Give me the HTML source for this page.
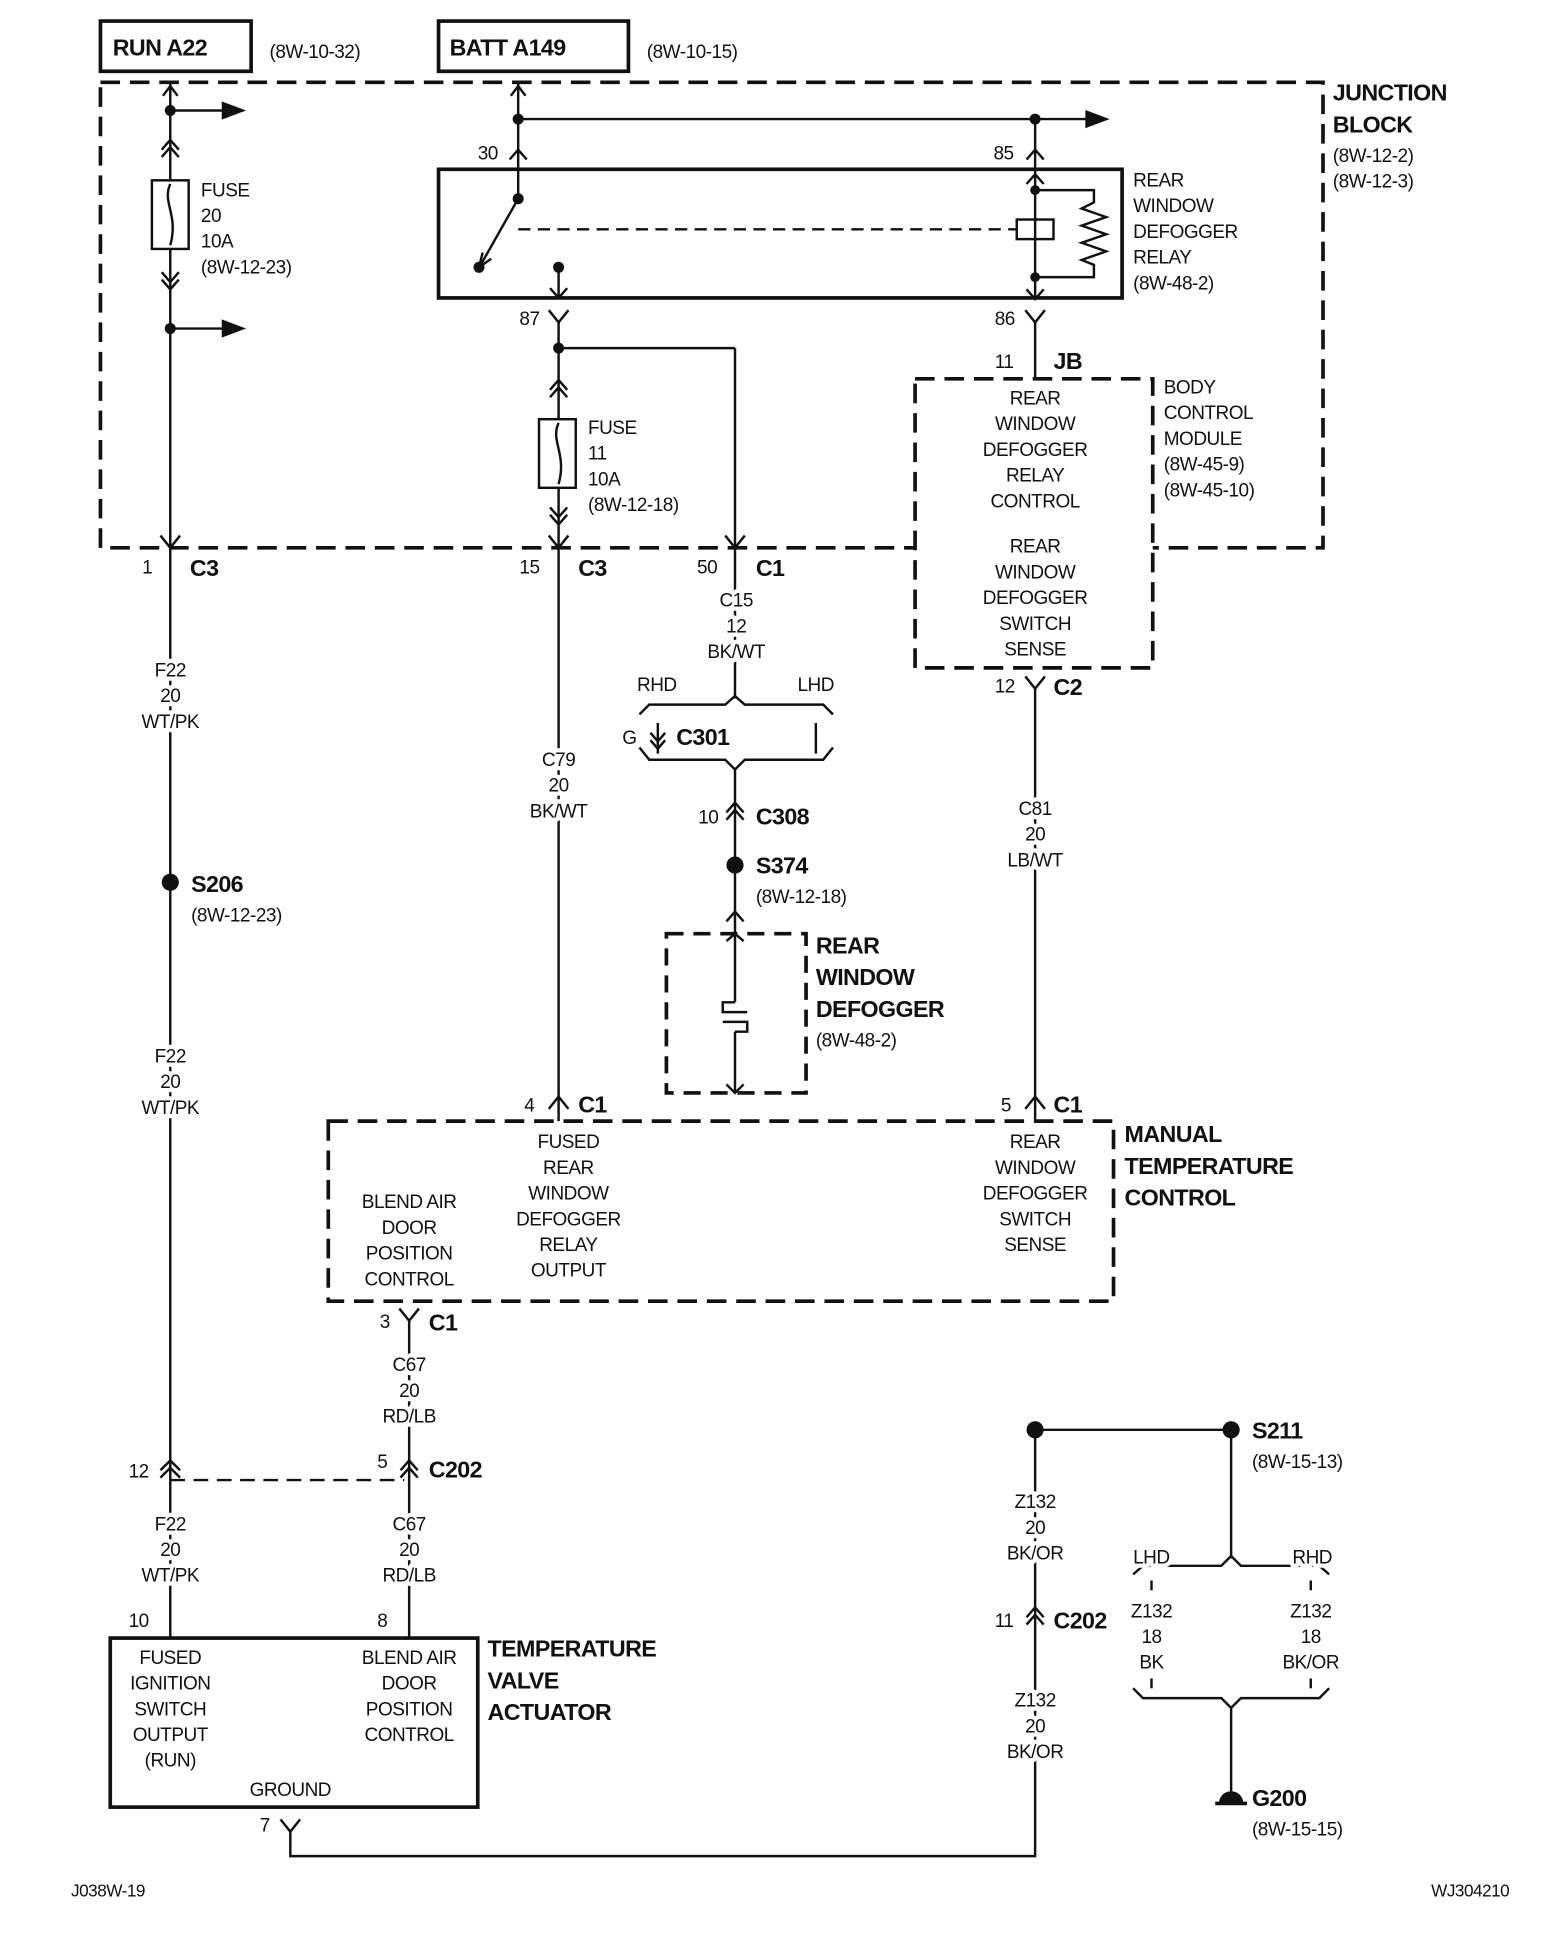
<!DOCTYPE html>
<html><head><meta charset="utf-8"><style>
html,body{margin:0;padding:0;background:#fff}
svg{display:block}
text{font-family:"Liberation Sans",sans-serif;font-size:15.5px;fill:#111;letter-spacing:-0.4px}
.b{font-weight:bold;font-size:19px;letter-spacing:-0.5px}
.c{text-anchor:middle}
.w{stroke:#fff;stroke-width:7px;paint-order:stroke;stroke-linejoin:round}
</style></head><body>
<svg width="1568" height="1936" viewBox="0 0 1280 1580" xmlns="http://www.w3.org/2000/svg">
<g stroke="#111" stroke-width="2" fill="none">
<rect x="82" y="17" width="123" height="41" stroke-width="3"/>
<rect x="358" y="17" width="155" height="41" stroke-width="3"/>
<rect x="82" y="67" width="998" height="380" stroke-width="3" stroke-dasharray="16,8"/>
<line x1="139" y1="67" x2="139" y2="1337"/>
<path d="M133,78 L139,70 L145,78"/>
<line x1="139" y1="90" x2="185" y2="90"/><path d="M182,84 L198,90 L182,96 Z" fill="#111"/>
<path d="M132,122 L139,114 L146,122 M132,128 L139,120 L146,128"/>
<rect x="124" y="147" width="30" height="56" fill="#fff"/>
<path d="M139,150 C132,165 146,175 139,200"/>
<path d="M132,222 L139,230 L146,222 M132,228 L139,236 L146,228"/>
<line x1="139" y1="268" x2="185" y2="268"/><path d="M182,262 L198,268 L182,274 Z" fill="#111"/>
<path d="M131,437 L139,447 L147,437"/>
<path d="M131,1200 L139,1192 L147,1200 M131,1206 L139,1198 L147,1206"/>
<line x1="139" y1="1208" x2="330" y2="1208" stroke-dasharray="12,7"/>
<line x1="423" y1="67" x2="423" y2="138"/>
<path d="M417,78 L423,70 L429,78"/>
<line x1="423" y1="97" x2="890" y2="97"/><path d="M887,91 L903,97 L887,103 Z" fill="#111"/>
<path d="M416,130 L423,122 L430,130"/>
<line x1="845" y1="97" x2="845" y2="138"/>
<path d="M838,130 L845,122 L852,130"/>
<rect x="358" y="138" width="558" height="105" stroke-width="3"/>
<line x1="423" y1="138" x2="423" y2="162"/>
<line x1="423" y1="162" x2="393" y2="215"/>
<path d="M394,206 L391,218 L401,211"/>
<line x1="423" y1="187" x2="830" y2="187" stroke-dasharray="10,6"/>
<rect x="830" y="179" width="30" height="16"/>
<line x1="845" y1="138" x2="845" y2="243"/>
<path d="M838,150 L845,142 L852,150 M838,236 L845,244 L852,236"/>
<path d="M845,155 L893,155 L893,165 L883,170 L903,177 L883,184 L903,191 L883,198 L903,205 L883,212 L893,216 L893,226 L845,226"/>
<line x1="456" y1="218" x2="456" y2="243"/>
<path d="M449,235 L456,243 L463,235"/>
<path d="M448,253 L456,263 L464,253"/>
<line x1="456" y1="263" x2="456" y2="447"/>
<line x1="456" y1="284" x2="600" y2="284"/>
<line x1="600" y1="284" x2="600" y2="447"/>
<path d="M592,437 L600,447 L608,437"/>
<path d="M449,318 L456,310 L463,318 M449,324 L456,316 L463,324"/>
<rect x="440" y="342" width="30" height="56" fill="#fff"/>
<path d="M456,345 C449,360 463,370 456,395"/>
<path d="M449,414 L456,422 L463,414 M449,420 L456,428 L463,420"/>
<path d="M448,437 L456,447 L464,437"/>
<path d="M837,253 L845,263 L853,253"/>
<line x1="845" y1="263" x2="845" y2="309"/>
<rect x="747" y="309" width="194" height="236" stroke-width="3" stroke-dasharray="16,8" fill="#fff"/>
<path d="M837,552 L845,562 L853,552"/>
<line x1="845" y1="562" x2="845" y2="915"/>
<path d="M837,905 L845,895 L853,905"/>
<line x1="456" y1="447" x2="456" y2="915"/>
<path d="M448,905 L456,895 L464,905"/>
<line x1="600" y1="447" x2="600" y2="570"/>
<path d="M522,583 L530,575 L592,575 L600,568 L608,575 L672,575 L680,583"/>
<path d="M522,610 L530,620 L592,620 L600,628 L608,620 L672,620 L680,610"/>
<line x1="537" y1="590" x2="537" y2="615"/>
<path d="M531,598 L537,605 L543,598 M531,604 L537,611 L543,604"/>
<line x1="666" y1="590" x2="666" y2="615"/>
<line x1="600" y1="628" x2="600" y2="762"/>
<path d="M593,663 L600,655 L607,663 M593,669 L600,661 L607,669"/>
<path d="M593,752 L600,744 L607,752"/>
<rect x="544" y="762" width="114" height="130" stroke-width="3" stroke-dasharray="14,8"/>
<path d="M593,768 L600,762 L607,768"/>
<line x1="600" y1="762" x2="600" y2="818"/>
<path d="M600,818 L590,818 L590,826 L610,826 M590,834 L610,834 L610,842 L600,842"/>
<line x1="600" y1="842" x2="600" y2="892"/>
<path d="M593,885 L600,892 L607,885"/>
<rect x="268" y="915" width="641" height="147" stroke-width="3" stroke-dasharray="16,8"/>
<path d="M326,1068 L334,1078 L342,1068"/>
<line x1="334" y1="1078" x2="334" y2="1337"/>
<path d="M327,1200 L334,1192 L341,1200 M327,1206 L334,1198 L341,1206"/>
<rect x="90" y="1337" width="300" height="138" stroke-width="3"/>
<path d="M229,1485 L237,1495 L245,1485"/>
<path d="M237,1495 L237,1515 L845,1515 L845,1167"/>
<line x1="845" y1="1167" x2="1005" y2="1167"/>
<path d="M838,1320 L845,1312 L852,1320 M838,1326 L845,1318 L852,1326"/>
<line x1="1005" y1="1167" x2="1005" y2="1272"/>
<path d="M925,1285 L933,1278 L997,1278 L1005,1270 L1013,1278 L1077,1278 L1085,1285"/>
<line x1="940" y1="1290" x2="940" y2="1298"/><line x1="1070" y1="1290" x2="1070" y2="1298"/>
<line x1="940" y1="1370" x2="940" y2="1378"/><line x1="1070" y1="1370" x2="1070" y2="1378"/>
<path d="M925,1378 L933,1386 L997,1386 L1005,1394 L1013,1386 L1077,1386 L1085,1378"/>
<line x1="1005" y1="1394" x2="1005" y2="1465"/>
<line x1="992" y1="1472" x2="1018" y2="1472" stroke-width="3"/>
</g>
<g fill="#111">
<circle cx="139" cy="90" r="4.5"/><circle cx="139" cy="268" r="4.5"/>
<circle cx="423" cy="97" r="4.5"/><circle cx="845" cy="97" r="4.5"/>
<circle cx="423" cy="162" r="4.5"/><circle cx="391" cy="218" r="4.5"/>
<circle cx="456" cy="218" r="4.5"/>
<circle cx="845" cy="155" r="4"/><circle cx="845" cy="226" r="4"/>
<circle cx="456" cy="284" r="4.5"/>
<circle cx="139" cy="720" r="7"/><circle cx="600" cy="706" r="7"/>
<circle cx="845" cy="1167" r="7"/><circle cx="1005" cy="1167" r="7"/>
<path d="M995,1472 A10,10 0 0 1 1015,1472 Z"/>
</g>
<text x="92" y="45" class="b">RUN A22</text>
<text x="220" y="47">(8W-10-32)</text>
<text x="367" y="45" class="b">BATT A149</text>
<text x="528" y="47">(8W-10-15)</text>
<text x="1088" y="82" class="b">JUNCTION</text>
<text x="1088" y="108" class="b">BLOCK</text>
<text x="1088" y="132">(8W-12-2)</text>
<text x="1088" y="153">(8W-12-3)</text>
<text x="164" y="160">FUSE</text><text x="164" y="181">20</text><text x="164" y="202">10A</text><text x="164" y="223">(8W-12-23)</text>
<text x="390" y="130">30</text><text x="811" y="130">85</text>
<text x="925" y="152">REAR</text><text x="925" y="173">WINDOW</text><text x="925" y="194">DEFOGGER</text><text x="925" y="215">RELAY</text><text x="925" y="236">(8W-48-2)</text>
<text x="424" y="265">87</text><text x="812" y="265">86</text>
<text x="812" y="300">11</text><text x="860" y="301" class="b">JB</text>
<text x="480" y="354">FUSE</text><text x="480" y="375">11</text><text x="480" y="396">10A</text><text x="480" y="417">(8W-12-18)</text>
<text x="845" y="330" class="c">REAR</text><text x="845" y="351" class="c">WINDOW</text><text x="845" y="372" class="c">DEFOGGER</text><text x="845" y="393" class="c">RELAY</text><text x="845" y="414" class="c">CONTROL</text>
<text x="845" y="451" class="c">REAR</text><text x="845" y="472" class="c">WINDOW</text><text x="845" y="493" class="c">DEFOGGER</text><text x="845" y="514" class="c">SWITCH</text><text x="845" y="535" class="c">SENSE</text>
<text x="950" y="321">BODY</text><text x="950" y="342">CONTROL</text><text x="950" y="363">MODULE</text><text x="950" y="384">(8W-45-9)</text><text x="950" y="405">(8W-45-10)</text>
<text x="116" y="468">1</text><text x="155" y="470" class="b">C3</text>
<text x="424" y="468">15</text><text x="472" y="470" class="b">C3</text>
<text x="569" y="468">50</text><text x="617" y="470" class="b">C1</text>
<text x="601" y="495" class="c w">C15</text><text x="601" y="516" class="c w">12</text><text x="601" y="537" class="c w">BK/WT</text>
<text x="520" y="564">RHD</text><text x="651" y="564">LHD</text>
<text x="508" y="607">G</text><text x="552" y="608" class="b">C301</text>
<text x="812" y="565">12</text><text x="860" y="567" class="b">C2</text>
<text x="139" y="552" class="c w">F22</text><text x="139" y="573" class="c w">20</text><text x="139" y="594" class="c w">WT/PK</text>
<text x="456" y="625" class="c w">C79</text><text x="456" y="646" class="c w">20</text><text x="456" y="667" class="c w">BK/WT</text>
<text x="845" y="665" class="c w">C81</text><text x="845" y="686" class="c w">20</text><text x="845" y="707" class="c w">LB/WT</text>
<text x="570" y="672">10</text><text x="617" y="673" class="b">C308</text>
<text x="156" y="728" class="b">S206</text><text x="156" y="752">(8W-12-23)</text>
<text x="617" y="713" class="b">S374</text><text x="617" y="737">(8W-12-18)</text>
<text x="666" y="778" class="b">REAR</text><text x="666" y="804" class="b">WINDOW</text><text x="666" y="830" class="b">DEFOGGER</text><text x="666" y="854">(8W-48-2)</text>
<text x="139" y="867" class="c w">F22</text><text x="139" y="888" class="c w">20</text><text x="139" y="909" class="c w">WT/PK</text>
<text x="428" y="907">4</text><text x="472" y="908" class="b">C1</text>
<text x="817" y="907">5</text><text x="860" y="908" class="b">C1</text>
<text x="918" y="932" class="b">MANUAL</text><text x="918" y="958" class="b">TEMPERATURE</text><text x="918" y="984" class="b">CONTROL</text>
<text x="464" y="937" class="c">FUSED</text><text x="464" y="958" class="c">REAR</text><text x="464" y="979" class="c">WINDOW</text><text x="464" y="1000" class="c">DEFOGGER</text><text x="464" y="1021" class="c">RELAY</text><text x="464" y="1042" class="c">OUTPUT</text>
<text x="334" y="986" class="c">BLEND AIR</text><text x="334" y="1007" class="c">DOOR</text><text x="334" y="1028" class="c">POSITION</text><text x="334" y="1049" class="c">CONTROL</text>
<text x="845" y="937" class="c">REAR</text><text x="845" y="958" class="c">WINDOW</text><text x="845" y="979" class="c">DEFOGGER</text><text x="845" y="1000" class="c">SWITCH</text><text x="845" y="1021" class="c">SENSE</text>
<text x="310" y="1084">3</text><text x="350" y="1086" class="b">C1</text>
<text x="334" y="1119" class="c w">C67</text><text x="334" y="1140" class="c w">20</text><text x="334" y="1161" class="c w">RD/LB</text>
<text x="105" y="1206">12</text><text x="308" y="1198">5</text><text x="350" y="1206" class="b">C202</text>
<text x="139" y="1249" class="c w">F22</text><text x="139" y="1270" class="c w">20</text><text x="139" y="1291" class="c w">WT/PK</text>
<text x="334" y="1249" class="c w">C67</text><text x="334" y="1270" class="c w">20</text><text x="334" y="1291" class="c w">RD/LB</text>
<text x="105" y="1328">10</text><text x="308" y="1328">8</text>
<text x="139" y="1358" class="c">FUSED</text><text x="139" y="1379" class="c">IGNITION</text><text x="139" y="1400" class="c">SWITCH</text><text x="139" y="1421" class="c">OUTPUT</text><text x="139" y="1442" class="c">(RUN)</text>
<text x="334" y="1358" class="c">BLEND AIR</text><text x="334" y="1379" class="c">DOOR</text><text x="334" y="1400" class="c">POSITION</text><text x="334" y="1421" class="c">CONTROL</text>
<text x="237" y="1466" class="c">GROUND</text>
<text x="398" y="1352" class="b">TEMPERATURE</text><text x="398" y="1378" class="b">VALVE</text><text x="398" y="1404" class="b">ACTUATOR</text>
<text x="212" y="1495">7</text>
<text x="1022" y="1174" class="b">S211</text><text x="1022" y="1198">(8W-15-13)</text>
<text x="845" y="1231" class="c w">Z132</text><text x="845" y="1252" class="c w">20</text><text x="845" y="1273" class="c w">BK/OR</text>
<text x="812" y="1328">11</text><text x="860" y="1329" class="b">C202</text>
<text x="845" y="1393" class="c w">Z132</text><text x="845" y="1414" class="c w">20</text><text x="845" y="1435" class="c w">BK/OR</text>
<text x="925" y="1276" class="w">LHD</text><text x="1055" y="1276" class="w">RHD</text>
<text x="940" y="1320" class="c">Z132</text><text x="940" y="1341" class="c">18</text><text x="940" y="1362" class="c">BK</text>
<text x="1070" y="1320" class="c">Z132</text><text x="1070" y="1341" class="c">18</text><text x="1070" y="1362" class="c">BK/OR</text>
<text x="1022" y="1474" class="b">G200</text><text x="1022" y="1498">(8W-15-15)</text>
<text x="58" y="1548" style="font-size:14px">J038W-19</text>
<text x="1232" y="1548" style="font-size:14px;text-anchor:end">WJ304210</text>
</svg>
</body></html>
